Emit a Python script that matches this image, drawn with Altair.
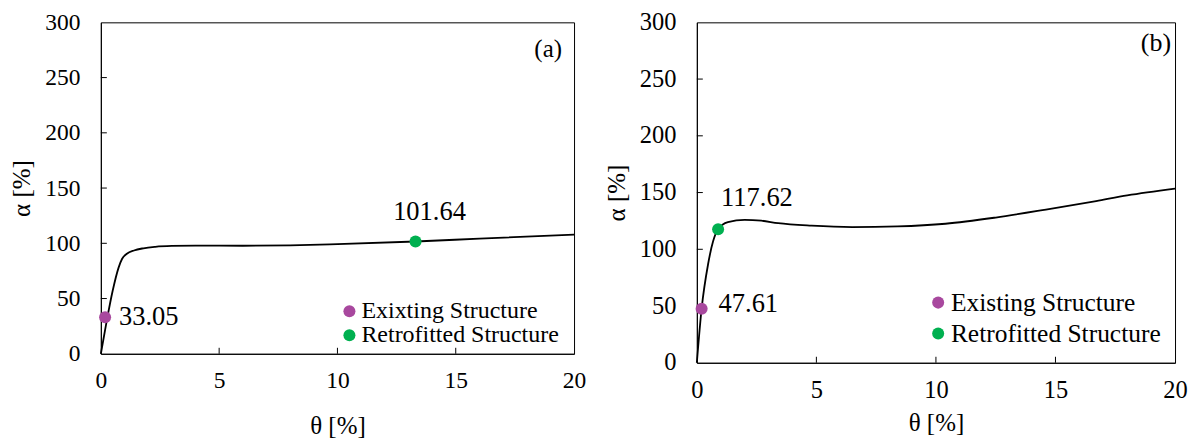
import altair as alt
import pandas as pd

FONT = "Liberation Serif"
PURPLE = "#A8489E"
GREEN = "#00B050"

# ---------------- Panel (a) data ----------------
theta_a = [0, 0.25, 0.5, 0.75, 0.9, 1.1, 1.4, 1.8, 2.3, 3.0, 4.0, 6.0, 8.0, 10.0, 13.3, 16.0, 20.0]
alpha_a = [0, 30, 57, 78, 86, 90.5, 93.5, 95.5, 96.8, 97.6, 97.9, 97.8, 98.2, 99.3, 101.64, 104.2, 107.8]
pts_theta_a = [0.18, 13.3]
pts_alpha_a = [33.05, 101.64]
pts_label_a = ["33.05", "101.64"]
legend_a = ["Exixting Structure", "Retrofitted Structure"]

# ---------------- Panel (b) data ----------------
theta_b = [0, 0.2, 0.47, 0.68, 0.89, 1.3, 2.0, 2.7, 3.4, 4.8, 6.5, 8.4, 10.4, 12.5, 14.6, 16.7, 18.0, 20.0]
alpha_b = [0, 47.6, 86.8, 107, 117.6, 124, 126, 125.2, 123, 120.8, 119.6, 120.2, 122.5, 128, 135, 142.5, 147.5, 153.5]
pts_theta_b = [0.2, 0.89]
pts_alpha_b = [47.61, 117.62]
pts_label_b = ["47.61", "117.62"]
legend_b = ["Existing Structure", "Retrofitted Structure"]

x_ticks = [0, 5, 10, 15, 20]
y_ticks = [0, 50, 100, 150, 200, 250, 300]
x_inner_ticks = [5, 10, 15]
y_inner_ticks = [50, 100, 150, 200, 250]


def panel(theta, alpha, p_theta, p_alpha, p_label, leg_labels, W, H, tick_fs,
          x_lab_pad, x_title_pad, leg_x, leg_y, leg_row_pad, leg_fs,
          ann_offsets, letter, letter_fs, letter_dx, letter_dy):
    curve_df = pd.DataFrame({"theta": theta, "alpha": alpha})
    pts_df = pd.DataFrame({"theta": p_theta, "alpha": p_alpha,
                           "label": p_label, "Structure": leg_labels})

    xs = alt.Scale(domain=[0, 20], nice=False, zero=False)
    ys = alt.Scale(domain=[0, 300], nice=False, zero=False)

    x_axis = alt.Axis(values=x_ticks, ticks=False, tickSize=0, grid=False,
                      domainColor="black", labelFont=FONT, labelFontSize=tick_fs,
                      labelColor="black", labelPadding=x_lab_pad, labelFlush=False,
                      title="θ [%]", titleFont=FONT, titleFontSize=25,
                      titleFontWeight="normal", titleColor="black",
                      titlePadding=x_title_pad)
    y_axis = alt.Axis(values=y_ticks, ticks=False, tickSize=0, grid=False,
                      domainColor="black", labelFont=FONT, labelFontSize=tick_fs,
                      labelColor="black", labelPadding=21, labelFlush=False,
                      title="α [%]", titleFont=FONT, titleFontSize=25,
                      titleFontWeight="normal", titleColor="black",
                      titlePadding=10)

    line = alt.Chart(curve_df).mark_line(
        color="black", strokeWidth=1.8, interpolate="monotone"
    ).encode(
        x=alt.X("theta:Q", scale=xs, axis=x_axis),
        y=alt.Y("alpha:Q", scale=ys, axis=y_axis),
    )

    yt = alt.Chart(pd.DataFrame({"v": y_inner_ticks})).mark_rule(
        color="black", strokeWidth=1
    ).encode(y=alt.Y("v:Q", scale=ys), x=alt.value(0), x2=alt.value(6))
    xt = alt.Chart(pd.DataFrame({"v": x_inner_ticks})).mark_rule(
        color="black", strokeWidth=1
    ).encode(x=alt.X("v:Q", scale=xs), y=alt.value(H), y2=alt.value(H - 6))

    points = alt.Chart(pts_df).mark_point(
        filled=True, size=145, opacity=1
    ).encode(
        x=alt.X("theta:Q", scale=xs),
        y=alt.Y("alpha:Q", scale=ys),
        color=alt.Color(
            "Structure:N",
            scale=alt.Scale(domain=leg_labels, range=[PURPLE, GREEN]),
            legend=alt.Legend(
                orient="none", legendX=leg_x, legendY=leg_y, title=None,
                labelFont=FONT, labelFontSize=leg_fs, labelColor="black",
                symbolType="circle", symbolSize=145, symbolStrokeWidth=0,
                symbolOpacity=1, rowPadding=leg_row_pad, labelOffset=0,
                padding=0, labelLimit=400,
            ),
        ),
    )

    layers = [line, yt, xt, points]
    for i, (dx, dy, align) in enumerate(ann_offsets):
        one = pts_df.iloc[[i]]
        layers.append(
            alt.Chart(one).mark_text(
                font=FONT, fontSize=26.5, color="black", align=align,
                baseline="middle", dx=dx, dy=dy
            ).encode(x=alt.X("theta:Q", scale=xs), y=alt.Y("alpha:Q", scale=ys),
                     text="label:N")
        )

    letter_df = pd.DataFrame({"t": [letter], "x": [20], "y": [300]})
    layers.append(
        alt.Chart(letter_df).mark_text(
            font=FONT, fontSize=letter_fs, color="black", align="right",
            baseline="top", dx=letter_dx, dy=letter_dy
        ).encode(x=alt.X("x:Q", scale=xs), y=alt.Y("y:Q", scale=ys), text="t:N")
    )

    return alt.layer(*layers).properties(
        width=W, height=H,
        view=alt.ViewBackground(stroke="black", strokeWidth=1),
    )


left = panel(theta_a, alpha_a, pts_theta_a, pts_alpha_a, pts_label_a, legend_a,
             W=474, H=332, tick_fs=23.5, x_lab_pad=15, x_title_pad=21,
             leg_x=237, leg_y=277.5, leg_row_pad=0, leg_fs=24,
             ann_offsets=[(14, 0, "left"), (14, -30, "center")],
             letter="(a)", letter_fs=25, letter_dx=-12, letter_dy=15)

right = panel(theta_b, alpha_b, pts_theta_b, pts_alpha_b, pts_label_b, legend_b,
              W=479, H=341, tick_fs=24.5, x_lab_pad=16, x_title_pad=8,
              leg_x=229, leg_y=268, leg_row_pad=4, leg_fs=25.5,
              ann_offsets=[(17, -5, "left"), (3, -31, "left")],
              letter="(b)", letter_fs=26, letter_dx=-4, letter_dy=8)

chart = alt.hconcat(left, right, spacing=123, bounds="flush").resolve_scale(
    color="independent", x="independent", y="independent"
).resolve_legend(color="independent").properties(
    padding={"left": 1, "top": 0, "right": 0, "bottom": 0}
).configure(background="white").configure_view(stroke="black")

chart.save("out.html", embed_options={"renderer": "svg", "actions": False})
